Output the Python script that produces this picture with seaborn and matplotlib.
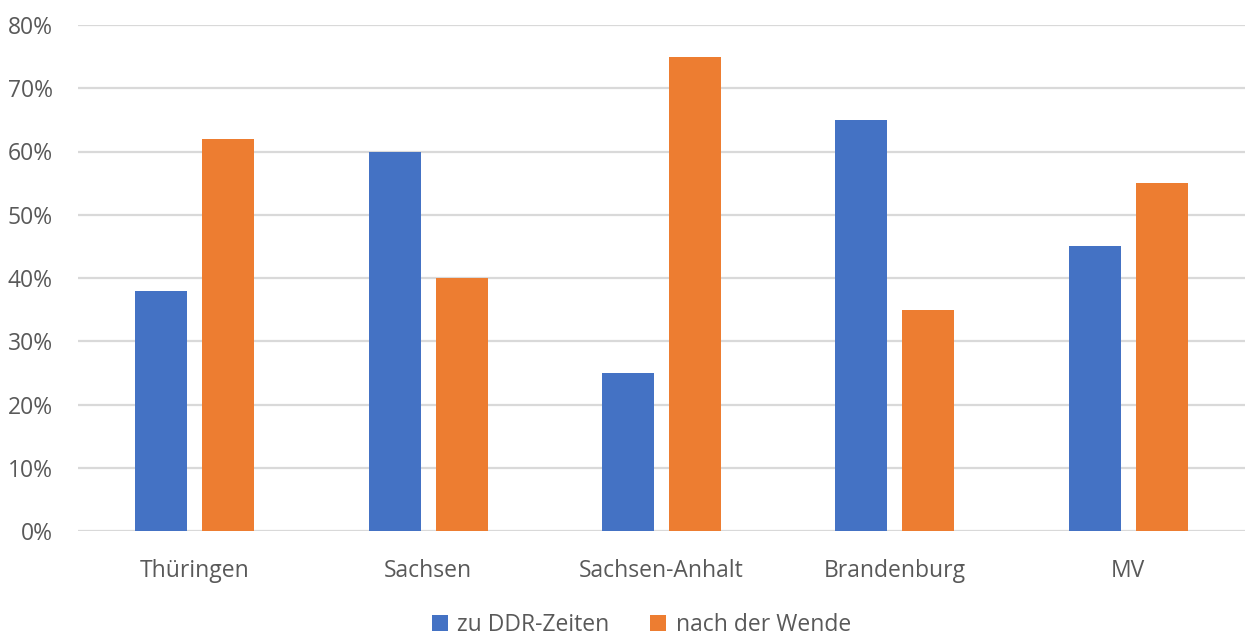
import matplotlib
matplotlib.use("Agg")
import matplotlib.pyplot as plt
import seaborn as sns
import pandas as pd
from matplotlib.ticker import PercentFormatter
from matplotlib.patches import Patch

categories = ["Thüringen", "Sachsen", "Sachsen-Anhalt", "Brandenburg", "MV"]
ddr_values = [0.38, 0.60, 0.25, 0.65, 0.45]
wende_values = [0.62, 0.40, 0.75, 0.35, 0.55]
series_names = ["zu DDR-Zeiten", "nach der Wende"]
y_ticks = [0, 0.1, 0.2, 0.3, 0.4, 0.5, 0.6, 0.7, 0.8]

df = pd.DataFrame({
    "Land": categories * 2,
    "Wert": ddr_values + wende_values,
    "Serie": [series_names[0]] * len(categories) + [series_names[1]] * len(categories),
})

sns.set_theme(style="white")
plt.rcParams["font.family"] = ["Open Sans", "DejaVu Sans"]

colors = ["#4472C4", "#ED7D31"]
text_color = "#595959"
grid_color = "#D9D9D9"

fig = plt.figure(figsize=(12.45, 6.35), dpi=100)
ax = fig.add_axes([78 / 1245, 1 - 531 / 635, 1 - 78 / 1245, (531 - 25) / 635])

sns.barplot(data=df, x="Land", y="Wert", hue="Serie", palette=colors,
            width=0.573, gap=0.223, ax=ax, legend=False, saturation=1,
            linewidth=0, edgecolor="none")

ax.set_ylim(0, 0.8)
ax.set_xlim(-0.5, len(categories) - 0.5)
ax.set_yticks(y_ticks)
ax.yaxis.set_major_formatter(PercentFormatter(1.0, decimals=0))
ax.grid(axis="y", color=grid_color, linewidth=1.6)
ax.set_axisbelow(True)
for s in ax.spines.values():
    s.set_visible(False)
ax.set_xlabel("")
ax.set_ylabel("")
ax.tick_params(axis="y", length=0, pad=18, labelsize=16.5, labelcolor=text_color)
ax.tick_params(axis="x", length=0, pad=20, labelsize=16.5, labelcolor=text_color)

handles = [Patch(facecolor=c, edgecolor="none") for c in colors]
fig.legend(handles, series_names, loc="center", bbox_to_anchor=(0.515, 10 / 635),
           ncol=2, frameon=False, fontsize=16.5, labelcolor=text_color,
           handlelength=0.7, handleheight=0.7, handletextpad=0.4, columnspacing=1.8,
           borderpad=0, borderaxespad=0)

fig.savefig("out.png", dpi=100, facecolor="white")
